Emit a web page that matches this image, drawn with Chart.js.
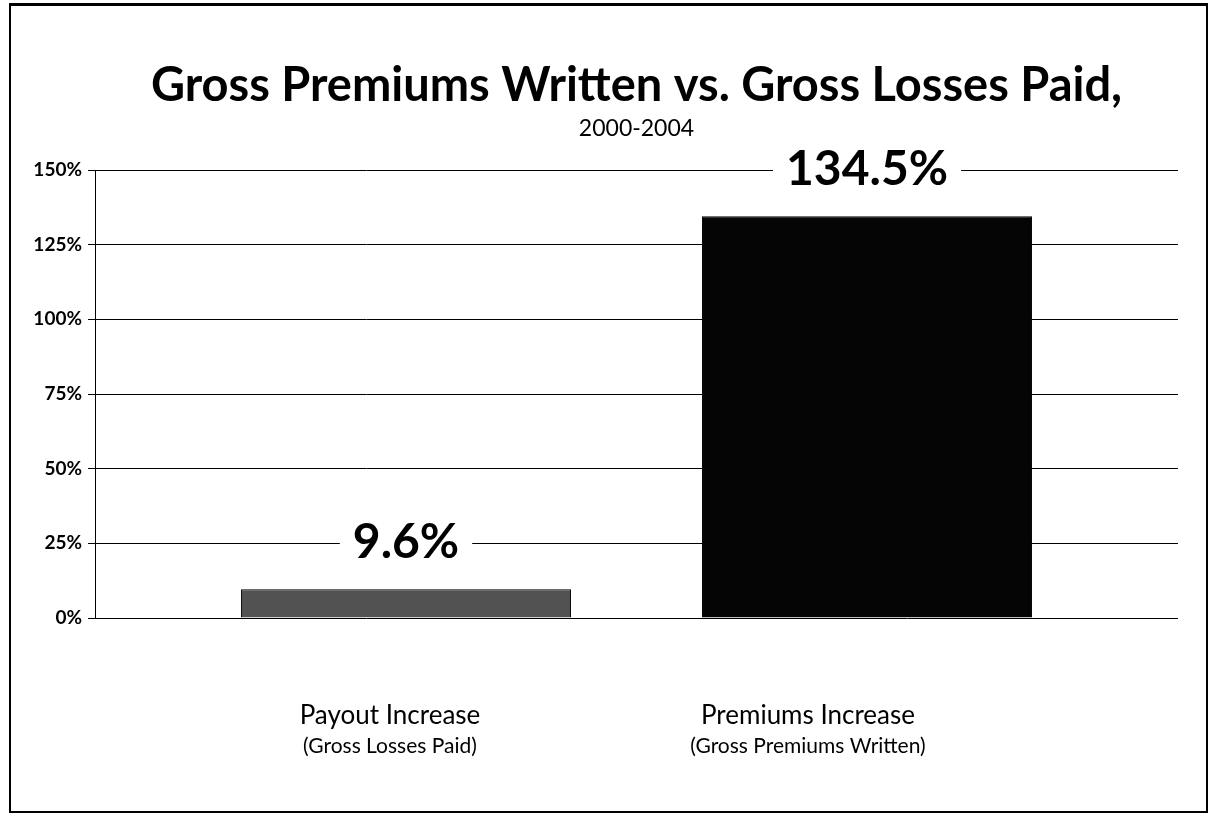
<!DOCTYPE html>
<html>
<head>
<meta charset="utf-8">
<title>Gross Premiums Written vs. Gross Losses Paid</title>
<script src="https://cdn.jsdelivr.net/npm/chart.js@4"></script>
<style>
	html, body { margin: 0; padding: 0; background: #fff; overflow: hidden; }
	.wrap { position: relative; width: 1210px; height: 816px; }
	.frame { position: absolute; left: 9px; top: 3px; width: 1195px; height: 805px; border: 2px solid #000; border-top-width: 3px; pointer-events: none; }
</style>
</head>
<body>
<div class="wrap">
	<canvas id="premiums-chart"></canvas>
	<div class="frame"></div>
</div>
<script>
var categories = ['Payout Increase', 'Premiums Increase'];
var subLabels = ['(Gross Losses Paid)', '(Gross Premiums Written)'];
var increases = [9.6, 134.5];
var barColors = ['#525252', '#050505'];
var yTicks = [0, 25, 50, 75, 100, 125, 150];

// one tick per category, nothing in between
var categoryTicks = function(scale){
	scale.ticks = categories.map(function(c, i){ return {value: i}; });
};

// big value above each bar, white box cuts the grid line behind it
var valueLabels = {
	id: 'valueLabels',
	afterDatasetsDraw: function(chart){
		var ctx = chart.ctx;
		var bars = chart.getDatasetMeta(0).data;
		ctx.save();
		ctx.font = 'bold 48px Lato';
		ctx.textAlign = 'center';
		ctx.textBaseline = 'middle';
		bars.forEach(function(bar, i){
			var text = increases[i].toFixed(1) + '%';
			var w = ctx.measureText(text).width + 26;
			var y = bar.y - 47;
			ctx.fillStyle = '#fff';
			ctx.fillRect(bar.x - w / 2, y - 22, w, 44);
			ctx.fillStyle = '#000';
			ctx.fillText(text, bar.x, y);
		});
		ctx.restore();
	}
};

new Chart(document.getElementById('premiums-chart'), {
	type: 'bar',
	data: {
		datasets: [{
			data: increases.map(function(v, i){ return {x: i, y: v}; }),
			backgroundColor: barColors,
			borderColor: '#000',
			borderWidth: 1,
			barPercentage: 0.716,
			categoryPercentage: 1
		}]
	},
	options: {
		responsive: true,
		maintainAspectRatio: false,
		animation: false,
		layout: { padding: { left: 0, right: 32, top: 0, bottom: 56 } },
		plugins: {
			legend: { display: false },
			tooltip: { enabled: false },
			title: {
				display: true,
				text: 'Gross Premiums Written vs. Gross Losses Paid,',
				fullSize: false,
				color: '#000',
				font: { family: 'Lato', size: 47, weight: 'bold' },
				padding: { top: 58, bottom: 0 }
			},
			subtitle: {
				display: true,
				text: '2000-2004',
				fullSize: false,
				color: '#000',
				font: { family: 'Lato', size: 23 },
				padding: { top: 0, bottom: 28 }
			}
		},
		scales: {
			x: {
				type: 'linear',
				display: false,
				offset: false,
				min: -0.6746,
				max: 1.6746,
				afterBuildTicks: categoryTicks
			},
			xLab: {
				type: 'linear',
				position: 'bottom',
				weight: 1,
				offset: false,
				min: -0.7057,
				max: 1.8852,
				afterBuildTicks: categoryTicks,
				grid: { display: false, drawTicks: false },
				border: { display: false },
				ticks: {
					autoSkip: false, maxRotation: 0, padding: 82, color: '#000',
					font: { family: 'Lato', size: 26 },
					callback: function(v){ return categories[v]; }
				},
				afterFit: function(s){ s.height = 112; }
			},
			xSub: {
				type: 'linear',
				position: 'bottom',
				weight: 2,
				offset: false,
				min: -0.7057,
				max: 1.8852,
				afterBuildTicks: categoryTicks,
				grid: { display: false, drawTicks: false },
				border: { display: false },
				ticks: {
					autoSkip: false, maxRotation: 0, padding: 4, color: '#000',
					font: { family: 'Lato', size: 21 },
					callback: function(v){ return subLabels[v]; }
				},
				afterFit: function(s){ s.height = 30; }
			},
			y: {
				min: 0,
				max: 150,
				afterBuildTicks: function(s){
					s.ticks = yTicks.map(function(v){ return {value: v}; });
				},
				grid: { color: '#000', lineWidth: 1, tickLength: 7 },
				border: { color: '#000' },
				ticks: {
					padding: 6, color: '#000',
					font: { family: 'Lato', size: 19, weight: 'bold' },
					callback: function(v){ return v + '%'; }
				},
				afterFit: function(s){ s.width = 95; }
			}
		}
	},
	plugins: [valueLabels]
});
</script>
</body>
</html>
